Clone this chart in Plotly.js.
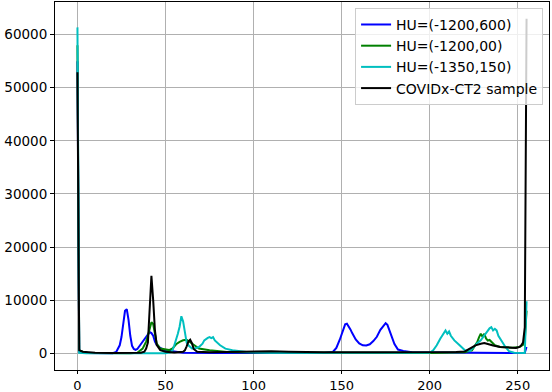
<!DOCTYPE html>
<html>
<head>
<meta charset="utf-8">
<script src="https://cdn.plot.ly/plotly-3.0.1.min.js"></script>
<style>
  html, body { margin: 0; padding: 0; background: #fff; }
  #histChart { width: 552px; height: 392px; }
</style>
</head>
<body>
<div id="histChart"></div>
<script>
var histDiv = document.getElementById('histChart');

// series names
var names = ['HU=(-1200,600)', 'HU=(-1200,00)', 'HU=(-1350,150)', 'COVIDx-CT2 sample'];

// HU=(-1200,600) : pixel intensity bin -> count
var blueX = [0,1,5,10,20,22,24,25,26,27,28,29,30,31,32,33,34,36,38,40,41,42,43,44,45,47,50,53,56,60,80,100,120,140,145,147,149,150,151,152,153,154,155,156,158,160,162,164,166,168,170,172,174,175,176,177,178,180,182,185,190,220,250,254,255];
var blueY = [55000,300,50,0,0,250,1500,3050,6000,8000,8300,6300,3300,1400,800,650,800,1700,2800,3700,4000,3800,3300,2200,1600,1000,560,430,250,100,50,80,60,60,250,1000,2600,3700,4700,5450,5550,5100,4500,3800,2600,1850,1500,1480,1700,2300,3100,4400,5400,5670,5350,4400,3300,1750,700,430,200,80,50,100,1180];

// HU=(-1200,00)
var greenX = [0,1,5,10,30,34,37,39,40,41,42,43,44,45,47,50,52,54,56,58,60,62,64,66,69,75,85,100,120,150,200,220,224,226,227,228,229,230,231,232,233,234,235,237,240,243,247,251,253,254,255];
var greenY = [58000,500,100,30,20,100,880,2200,3300,4800,5860,5500,3400,1800,900,700,600,900,1700,2150,2450,2560,2100,1500,900,560,250,150,100,80,60,200,560,1500,2120,3000,3680,3100,3680,2800,2400,2500,2100,1500,1180,1100,1060,1180,1600,2430,8000];

// HU=(-1350,150)
var cyanX = [0,1,5,50,53,54,55,56,57,58,59,60,61,62,63,65,67,69,71,72,74,75,76,77,78,81,84,88,96,110,150,190,200,202,204,206,208,209,210,211,212,214,217,220,223,225,227,229,231,233,234,235,236,237,238,239,241,243,245,248,254,255];
var cyanY = [61370,100,0,0,200,560,1500,2500,3680,5000,6980,6000,3800,2000,1500,900,950,1180,1800,2430,2900,3050,2850,3050,2430,1500,880,560,250,100,80,60,100,560,1500,2750,3900,4300,3700,4100,3300,2430,1500,560,430,1180,1900,2430,3370,4300,4700,4920,4300,4600,4300,3300,2120,1180,400,100,50,9800];

// COVIDx-CT2 sample
var blackX = [0,1,3,6,10,20,36,38,39,40,41,42,43,44,45,47,50,55,60,61,62,63,64,65,66,68,75,90,100,110,120,140,170,200,215,220,223,226,229,231,233,236,240,245,249,251,252,253,254,255];
var blackY = [52900,600,300,150,80,50,100,300,880,2000,8000,14600,10000,4300,1600,600,300,150,300,560,1300,2200,2560,1900,800,300,200,250,400,400,300,200,200,200,250,350,880,1500,1800,1930,1750,1450,1200,1050,1000,1200,1500,2000,4900,63000];

var xTicks = [0, 50, 100, 150, 200, 250];
var yTicks = [0, 10000, 20000, 30000, 40000, 50000, 60000];

var config = {responsive: false, displayModeBar: false, staticPlot: true}

function histLine(x, y, name, color) {
  return {
    type: 'scatter',
    mode: 'lines',
    x: x,
    y: y,
    name: name,
    line: {color: color, width: 2}
  }
}

var data = [
  histLine(blueX, blueY, names[0], '#0000ff'),
  histLine(greenX, greenY, names[1], '#008000'),
  histLine(cyanX, cyanY, names[2], '#00bfbf'),
  histLine(blackX, blackY, names[3], '#000000')
]

var axisFont = {family: 'DejaVu Sans', size: 13.5, color: '#000'}

var layout = {
  width: 552,
  height: 392,
  margin: {l: 55, r: 3, t: 2, b: 22},
  paper_bgcolor: '#fff',
  plot_bgcolor: '#fff',
  font: axisFont,
  showlegend: true,
  legend: {
    x: 0.988,
    xanchor: 'right',
    y: 0.984,
    yanchor: 'top',
    bgcolor: 'rgba(255,255,255,0.8)',
    bordercolor: '#cccccc',
    borderwidth: 1,
    font: {family: 'DejaVu Sans', size: 14, color: '#000'},
    tracegroupgap: 0
  },
  xaxis: {
    range: [-12.75, 267.75],
    tickvals: xTicks,
    ticks: 'outside',
    ticklen: 3,
    tickwidth: 1,
    tickcolor: '#000',
    showline: true,
    linecolor: '#000',
    linewidth: 1,
    mirror: true,
    showgrid: true,
    gridcolor: '#b0b0b0',
    gridwidth: 1,
    zeroline: false,
    tickfont: {family: 'DejaVu Sans', size: 13, color: '#000'}
  },
  yaxis: {
    range: [-3150, 66150],
    tickvals: yTicks,
    tickformat: 'd',
    ticks: 'outside',
    ticklen: 4,
    tickwidth: 1,
    tickcolor: '#000',
    showline: true,
    linecolor: '#000',
    linewidth: 1,
    mirror: true,
    showgrid: true,
    gridcolor: '#b0b0b0',
    gridwidth: 1,
    zeroline: false,
    tickfont: axisFont
  }
}

Plotly.newPlot(histDiv, data, layout, config);
</script>
</body>
</html>
